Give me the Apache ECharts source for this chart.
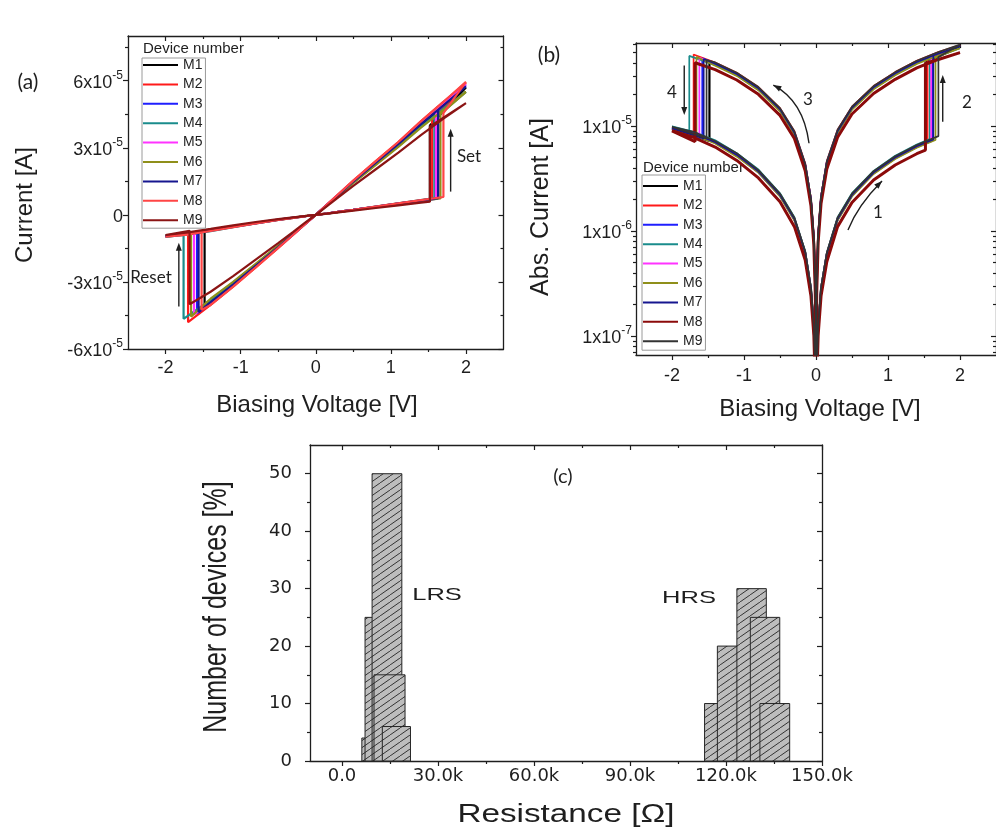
<!DOCTYPE html>
<html><head><meta charset="utf-8">
<script src="https://cdn.jsdelivr.net/npm/echarts@6/dist/echarts.min.js"></script>
<style>html,body{margin:0;padding:0;background:#fff}#c{width:996px;height:830px}</style>
</head><body><div id="c"></div>
<script>
// ---------------- DATA ----------------
const devices = ['M1','M2','M3','M4','M5','M6','M7','M8','M9'];
const colorsA = ['#000000','#ff1a1a','#1f1fff','#1a8c8c','#ff33ff','#8f8f1a','#16168f','#ff4545','#8b1414'];
const colorsB = ['#000000','#ff1a1a','#1f1fff','#1a8c8c','#ff33ff','#8f8f1a','#16168f','#8b0a0a','#333333'];
const panelBRow = [0, 1, 2, 3, 4, 5, 6, 8, 7];
// switching voltages [V]
const setV   = [1.52, 1.55, 1.62, 1.58, 1.60, 1.66, 1.63, 1.70, 1.52];
const resetV = [-1.48, -1.70, -1.58, -1.76, -1.62, -1.66, -1.56, -1.52, -1.68];
// voltage grids of the four sweep branches [V]
const hrsPosV = [0.002, 0.01, 0.03, 0.07, 0.15, 0.3, 0.5, 0.8, 1.1, 1.4];
const lrsPosV = [2.0, 1.7, 1.4, 1.1, 0.8, 0.5, 0.3, 0.15, 0.07, 0.03, 0.01, 0.002];
const lrsNegV = [-0.002, -0.01, -0.03, -0.07, -0.15, -0.3, -0.5, -0.8, -1.1, -1.4];
const hrsNegV = [-2.0, -1.7, -1.4, -1.1, -0.8, -0.5, -0.3, -0.15, -0.07, -0.03, -0.01, -0.002];
// currents in units of 1e-5 A
const hrsPosI = [
  [0.0008,0.004,0.012,0.028,0.06,0.13,0.22,0.36,0.50,0.64,0.70],
  [0.0008,0.0041,0.0122,0.029,0.061,0.133,0.224,0.367,0.51,0.653,0.725],
  [0.0008,0.0039,0.0118,0.027,0.059,0.127,0.216,0.353,0.49,0.627,0.725],
  [0.0008,0.0042,0.0125,0.029,0.062,0.135,0.229,0.374,0.52,0.666,0.75],
  [0.0008,0.004,0.012,0.028,0.06,0.13,0.22,0.36,0.50,0.64,0.73],
  [0.0008,0.0039,0.0116,0.027,0.058,0.126,0.213,0.349,0.485,0.621,0.737],
  [0.0008,0.004,0.012,0.028,0.06,0.13,0.22,0.36,0.50,0.64,0.745],
  [0.0008,0.0041,0.0124,0.029,0.062,0.134,0.227,0.371,0.515,0.659,0.80],
  [0.0007,0.0034,0.0102,0.024,0.051,0.11,0.187,0.306,0.425,0.544,0.59]
];
const setHighI = [4.0, 4.25, 4.8, 4.3, 4.6, 4.5, 4.7, 4.55, 3.95];
const lrsPosI = [
  [5.7,4.85,4.02,3.14,2.3,1.47,0.88,0.44,0.206,0.088,0.029,0.0059],
  [5.9,5.05,4.18,3.26,2.4,1.53,0.92,0.46,0.214,0.092,0.031,0.0061],
  [5.8,4.95,4.1,3.2,2.35,1.5,0.9,0.45,0.21,0.09,0.03,0.006],
  [5.5,4.75,3.94,3.07,2.26,1.44,0.86,0.43,0.2,0.086,0.029,0.0058],
  [5.85,4.97,4.1,3.2,2.35,1.5,0.9,0.45,0.21,0.09,0.03,0.006],
  [5.5,4.7,3.9,3.04,2.23,1.43,0.855,0.43,0.2,0.086,0.0285,0.0057],
  [5.75,4.9,4.06,3.17,2.33,1.49,0.89,0.445,0.208,0.089,0.0297,0.0059],
  [5.95,5.05,4.18,3.26,2.4,1.53,0.92,0.46,0.214,0.092,0.031,0.0061],
  [5.0,4.3,3.57,2.78,2.04,1.3,0.78,0.39,0.183,0.078,0.026,0.0052]
];
const lrsNegI = [
  [-0.0059,-0.029,-0.083,-0.196,-0.42,-0.85,-1.42,-2.25,-3.09,-3.87,-4.15],
  [-0.0061,-0.031,-0.087,-0.204,-0.44,-0.89,-1.48,-2.35,-3.21,-4.03,-4.8],
  [-0.006,-0.03,-0.085,-0.2,-0.43,-0.87,-1.45,-2.3,-3.15,-3.95,-4.4],
  [-0.0058,-0.029,-0.082,-0.192,-0.41,-0.835,-1.39,-2.21,-3.02,-3.8,-4.65],
  [-0.006,-0.03,-0.085,-0.2,-0.43,-0.87,-1.45,-2.3,-3.15,-3.95,-4.45],
  [-0.0057,-0.0285,-0.081,-0.19,-0.41,-0.83,-1.38,-2.19,-3.0,-3.75,-4.55],
  [-0.0059,-0.0297,-0.084,-0.198,-0.426,-0.86,-1.44,-2.28,-3.12,-3.91,-4.35],
  [-0.0061,-0.031,-0.087,-0.204,-0.44,-0.89,-1.48,-2.35,-3.21,-4.03,-4.25],
  [-0.0052,-0.026,-0.074,-0.174,-0.374,-0.76,-1.26,-2.0,-2.74,-3.44,-4.0]
];
const resetLowI = [-0.72, -0.85, -0.76, -0.9, -0.79, -0.79, -0.76, -0.76, -0.71];
const hrsNegI = [
  [-0.95,-0.85,-0.70,-0.53,-0.37,-0.22,-0.13,-0.062,-0.028,-0.012,-0.004,-0.0008],
  [-0.97,-0.87,-0.71,-0.54,-0.38,-0.225,-0.133,-0.063,-0.0286,-0.0122,-0.0041,-0.0008],
  [-0.93,-0.83,-0.69,-0.52,-0.36,-0.215,-0.127,-0.061,-0.0274,-0.0118,-0.0039,-0.0008],
  [-0.99,-0.88,-0.73,-0.55,-0.385,-0.229,-0.135,-0.064,-0.029,-0.0125,-0.0042,-0.0008],
  [-0.95,-0.85,-0.70,-0.53,-0.37,-0.22,-0.13,-0.062,-0.028,-0.012,-0.004,-0.0008],
  [-0.92,-0.82,-0.68,-0.51,-0.36,-0.213,-0.126,-0.06,-0.0272,-0.0116,-0.0039,-0.0008],
  [-0.95,-0.85,-0.70,-0.53,-0.37,-0.22,-0.13,-0.062,-0.028,-0.012,-0.004,-0.0008],
  [-0.98,-0.88,-0.72,-0.55,-0.38,-0.227,-0.134,-0.064,-0.0289,-0.0124,-0.0041,-0.0008],
  [-0.9,-0.78,-0.63,-0.47,-0.32,-0.19,-0.11,-0.053,-0.024,-0.0102,-0.0034,-0.0007]
];
// histogram (c): bin start, bin end [ohm], percentage of devices
const lrsStart = [6200, 7200, 9400, 10000, 12600];
const lrsEnd   = [15400, 16400, 18700, 19700, 21400];
const lrsPct   = [4, 25, 50, 15, 6];
const hrsStart = [113300, 117300, 123400, 127600, 130600];
const hrsEnd   = [122500, 126500, 132600, 136800, 139900];
const hrsPct   = [10, 20, 30, 25, 10];
// tick values
const ticksAX = [-2, -1, 0, 1, 2], minorAX = [-1.5, -0.5, 0.5, 1.5];
const ticksAY = [-6e-5, -3e-5, 0, 3e-5, 6e-5], minorAY = [-4.5e-5, -1.5e-5, 1.5e-5, 4.5e-5, 7.5e-5];
const ticksBY = [1e-7, 1e-6, 1e-5];
const minorBY = [7e-8,8e-8,9e-8,2e-7,3e-7,4e-7,5e-7,6e-7,7e-7,8e-7,9e-7,2e-6,3e-6,4e-6,5e-6,6e-6,7e-6,8e-6,9e-6,2e-5,3e-5,4e-5,5e-5,6e-5];
const ticksCX = [0, 30000, 60000, 90000, 120000, 150000], minorCX = [15000, 45000, 75000, 105000, 135000];
const ticksCY = [0, 10, 20, 30, 40, 50], minorCY = [5, 15, 25, 35, 45];

// ---------------- BUILD ----------------
const FONT = '"Liberation Sans", Arial, sans-serif';
const CAL = 'Lato, "Open Sans", sans-serif';
const INK = '#1e1e1e';

function sweep(i) {
  const pts = [[0, 0]];
  hrsPosV.forEach((v, k) => pts.push([v, hrsPosI[i][k]]));
  pts.push([setV[i], hrsPosI[i][10]]);
  pts.push([setV[i], setHighI[i]]);
  lrsPosV.forEach((v, k) => pts.push([v, lrsPosI[i][k]]));
  pts.push([0, 0]);
  lrsNegV.forEach((v, k) => pts.push([v, lrsNegI[i][k]]));
  pts.push([resetV[i], lrsNegI[i][10]]);
  pts.push([resetV[i], resetLowI[i]]);
  hrsNegV.forEach((v, k) => pts.push([v, hrsNegI[i][k]]));
  pts.push([0, 0]);
  return pts.map(p => [p[0], p[1] * 1e-5]);
}

function ax(grid, pos, sc, ticks, len, inside, line, label) {
  return {
    type: sc.type || 'value', gridIndex: grid, position: pos, min: sc.min, max: sc.max,
    splitLine: {show: false}, minorTick: {show: false},
    axisLine: {show: line, onZero: false, lineStyle: {color: INK, width: 1.3}},
    axisTick: {show: true, customValues: ticks, length: len, inside: inside, lineStyle: {color: INK, width: 1.2}},
    axisLabel: label ? Object.assign({show: true}, label) : {show: false},
    silent: true
  };
}
function axisSet(grid, dim, sc, major, minor, label) {
  const p1 = dim === 'x' ? 'bottom' : 'left', p2 = dim === 'x' ? 'top' : 'right';
  return [
    ax(grid, p1, sc, major, 5, false, true, label),
    ax(grid, p1, sc, minor, 3, false, false, null),
    ax(grid, p2, sc, major, 5, true, true, null),
    ax(grid, p2, sc, minor, 3, true, false, null)
  ];
}
const supRich = {
  n: {fontSize: 18, fontFamily: FONT, color: INK, lineHeight: 22, verticalAlign: 'bottom'},
  s: {fontSize: 12, fontFamily: FONT, color: INK, lineHeight: 12, verticalAlign: 'top'}
};
const sA = {min: -2.5, max: 2.5};
const xAxes = [].concat(
  axisSet(0, 'x', sA, ticksAX, minorAX, {customValues: ticksAX, fontSize: 18, fontFamily: FONT, color: INK, margin: 10}),
  axisSet(1, 'x', sA, ticksAX, minorAX, {customValues: ticksAX, fontSize: 18, fontFamily: FONT, color: INK, margin: 12}),
  axisSet(2, 'x', {min: -10000, max: 150000}, ticksCX, minorCX, {customValues: ticksCX, fontSize: 18, fontFamily: '"DejaVu Sans", sans-serif', color: INK, margin: 6,
    formatter: v => v === 0 ? '0.0' : (v / 1000).toFixed(1) + 'k'})
);
const yAxes = [].concat(
  axisSet(0, 'y', {min: -6e-5, max: 8e-5}, ticksAY, minorAY, {customValues: ticksAY, margin: 5,
    formatter: v => Math.abs(v) < 1e-12 ? '{n|0}' : '{n|' + Math.round(v / 1e-5) + 'x10}{s|-5}', rich: supRich}),
  axisSet(1, 'y', {type: 'log', min: 6.59e-8, max: 6.17e-5}, ticksBY, minorBY, {customValues: ticksBY, margin: 4,
    formatter: v => '{n|1x10}{s|' + Math.round(Math.log10(v)) + '}', rich: supRich}),
  axisSet(2, 'y', {min: 0, max: 55}, ticksCY, minorCY, {customValues: ticksCY, fontSize: 18, fontFamily: '"DejaVu Sans", sans-serif', color: INK, margin: 18})
);

// hatch pattern (shallow "/" lines)
const HW = 10, HH = 7;
const hc = document.createElement('canvas');
hc.width = HW; hc.height = HH;
const g = hc.getContext('2d');
g.fillStyle = '#bdbdbd'; g.fillRect(0, 0, HW, HH);
g.strokeStyle = '#333333'; g.lineWidth = 1.0;
g.beginPath();
g.moveTo(0, HH); g.lineTo(HW, 0);
g.moveTo(-HW, HH); g.lineTo(0, 0);
g.moveTo(HW, HH); g.lineTo(2 * HW, 0);
g.stroke();
const hatch = {image: hc, repeat: 'repeat'};

function barRender(params, api) {
  const p0 = api.coord([api.value(0), api.value(2)]);
  const p1 = api.coord([api.value(1), 0]);
  return {type: 'rect', shape: {x: p0[0], y: p0[1], width: p1[0] - p0[0], height: p1[1] - p0[1]},
    style: {fill: hatch, stroke: '#262626', lineWidth: 1}};
}

const series = [];
devices.forEach((d, i) => {
  series.push({type: 'line', name: d, xAxisIndex: 0, yAxisIndex: 0, data: sweep(i), showSymbol: false, symbol: 'none',
    color: colorsA[i], lineStyle: {width: 2.2, color: colorsA[i]}, clip: true, z: 3});
});
devices.forEach((d, i) => {
  const pts = sweep(panelBRow[i]);
  series.push({type: 'line', name: 'b' + d, xAxisIndex: 4, yAxisIndex: 4,
    data: pts.filter(p => p[1] !== 0).map(p => [p[0], Math.abs(p[1])]), showSymbol: false, symbol: 'none',
    color: colorsB[i], lineStyle: {width: i === 7 ? 3 : (i === 0 ? 2.2 : 1.7), color: colorsB[i]}, clip: true, z: 3});
});
series.push({type: 'custom', name: 'LRS', xAxisIndex: 8, yAxisIndex: 8, renderItem: barRender,
  encode: {x: [0, 1], y: 2}, data: lrsStart.map((s, k) => [s, lrsEnd[k], lrsPct[k]])});
series.push({type: 'custom', name: 'HRS', xAxisIndex: 8, yAxisIndex: 8, renderItem: barRender,
  encode: {x: [0, 1], y: 2}, data: hrsStart.map((s, k) => [s, hrsEnd[k], hrsPct[k]])});

const legendBase = {orient: 'vertical', itemWidth: 35, itemHeight: 2, itemGap: 5.4, icon: 'rect',
  borderColor: '#9a9a9a', borderWidth: 1, selectedMode: false,
  textStyle: {fontSize: 14, fontFamily: FONT, color: INK}};

const option = {
  animation: false,
  backgroundColor: '#ffffff',
  grid: [
    {left: 128, top: 36, width: 375.5, height: 313},
    {left: 636, top: 43, width: 369.5, height: 312},
    {left: 310, top: 445, width: 512, height: 316}
  ],
  xAxis: xAxes,
  yAxis: yAxes,
  legend: [
    Object.assign({}, legendBase, {data: devices, left: 142, top: 58, padding: [0, 3, 1, 1]}),
    Object.assign({}, legendBase, {data: devices.map(d => 'b' + d), left: 642, top: 175, padding: [4, 3, 2, 1],
      formatter: n => n.slice(1)})
  ],
  series: series
};

const chart = echarts.init(document.getElementById('c'), null, {renderer: 'canvas', width: 996, height: 830});
chart.setOption(option);

// ---------------- ANNOTATIONS ----------------
const texts = [
  ['(a)', 28, 82, 21, CAL, 0, 1, 1, 'center'],
  ['Current [A]', 25, 205, 24, FONT, 90, 1, 1, 'center'],
  ['Biasing Voltage [V]', 317, 405, 24, FONT, 0, 1, 1, 'center'],
  ['Set', 469, 157, 17, CAL, 0, 1, 1, 'center'],
  ['Reset', 151, 278, 17, CAL, 0, 1, 1, 'center'],
  ['Device number', 143, 49, 15, FONT, 0, 1, 1, 'left'],
  ['(b)', 549, 55, 21, CAL, 0, 1, 1, 'center'],
  ['Abs. Current [A]', 541, 207, 25, FONT, 90, 1, 1, 'center'],
  ['Biasing Voltage [V]', 820, 409, 24, FONT, 0, 1, 1, 'center'],
  ['4', 672, 93, 17, CAL, 0, 1, 1, 'center'],
  ['3', 808, 100, 17, CAL, 0, 1, 1, 'center'],
  ['2', 967, 103, 17, CAL, 0, 1, 1, 'center'],
  ['1', 878, 213, 17, CAL, 0, 1, 1, 'center'],
  ['Device number', 643, 168, 15, FONT, 0, 1, 1, 'left'],
  ['(c)', 563, 477, 20, CAL, 0, 1, 1, 'center'],
  ['LRS', 437, 595, 17, FONT, 0, 1.5, 1, 'center'],
  ['HRS', 689, 598, 17, FONT, 0, 1.5, 1, 'center'],
  ['Number of devices [%]', 217, 607, 25, FONT, 90, 1, 1.3, 'center'],
  ['Resistance [Ω]', 566, 815, 25, FONT, 0, 1.33, 1, 'center']
];
const arrowStraight = [
  [0, [1.796, 1.04e-5], [1.796, 3.85e-5]],
  [0, [-1.823, -4.1e-5], [-1.823, -1.25e-5]],
  [1, [-1.83, 3.77e-5], [-1.83, 1.27e-5]],
  [1, [1.76, 1.1e-5], [1.76, 3.06e-5]]
];
const arrowCurved = [
  [1, [-0.097, 6.85e-6], [-0.26, 1.5e-5], [-0.593, 2.45e-5]],
  [1, [0.444, 1.02e-6], [0.63, 1.75e-6], [0.917, 2.99e-6]]
];

const gfx = [];
texts.forEach(t => {
  gfx.push({type: 'text', x: t[1], y: t[2], rotation: t[5] * Math.PI / 180, scaleX: t[6], scaleY: t[7],
    style: {text: t[0], fontSize: t[3], fontFamily: t[4], fill: INK, align: t[8], verticalAlign: 'middle'}, silent: true});
});
function px(panel, p) {
  return chart.convertToPixel({xAxisIndex: panel * 4, yAxisIndex: panel * 4}, p);
}
function head(tip, dx, dy) {
  const L = Math.hypot(dx, dy), ux = dx / L, uy = dy / L;
  const len = 8, hw = 3;
  const bx = tip[0] - ux * len, by = tip[1] - uy * len;
  return {type: 'polygon', shape: {points: [tip, [bx - uy * hw, by + ux * hw], [bx + uy * hw, by - ux * hw]]},
    style: {fill: INK}, silent: true};
}
arrowStraight.forEach(a => {
  const p0 = px(a[0], a[1]), p1 = px(a[0], a[2]);
  const dx = p1[0] - p0[0], dy = p1[1] - p0[1], L = Math.hypot(dx, dy);
  gfx.push({type: 'line', shape: {x1: p0[0], y1: p0[1], x2: p1[0] - dx / L * 6, y2: p1[1] - dy / L * 6},
    style: {stroke: INK, lineWidth: 1.4}, silent: true});
  gfx.push(head(p1, dx, dy));
});
arrowCurved.forEach(a => {
  const p0 = px(a[0], a[1]), pm = px(a[0], a[2]), p2 = px(a[0], a[3]);
  const cp = [2 * pm[0] - (p0[0] + p2[0]) / 2, 2 * pm[1] - (p0[1] + p2[1]) / 2];
  gfx.push({type: 'bezierCurve', shape: {x1: p0[0], y1: p0[1], x2: p2[0], y2: p2[1], cpx1: cp[0], cpy1: cp[1]},
    style: {stroke: INK, lineWidth: 1.4, fill: null}, silent: true});
  gfx.push(head(p2, p2[0] - cp[0], p2[1] - cp[1]));
});
chart.setOption({graphic: gfx});
</script>
</body></html>
